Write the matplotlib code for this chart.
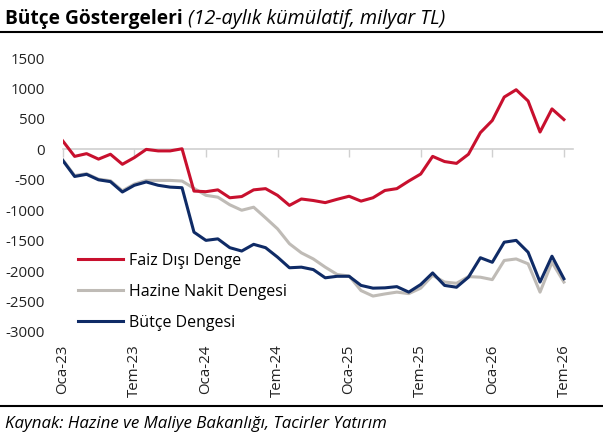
import matplotlib
matplotlib.use('Agg')
import matplotlib.pyplot as plt
from matplotlib.lines import Line2D
import numpy as np

plt.rcParams['font.family'] = ['Open Sans', 'DejaVu Sans']
plt.rcParams['axes.unicode_minus'] = False

# monthly data, Oca-23 .. Tem-26 (milyar TL, 12-aylik kumulatif)
months = np.arange(43)
tick_pos = [0, 6, 12, 18, 24, 30, 36, 42]
tick_labels = ['Oca-23', 'Tem-23', 'Oca-24', 'Tem-24', 'Oca-25', 'Tem-25', 'Oca-26', 'Tem-26']

faiz_disi = [140, -115, -70, -160, -80, -245, -135, 0, -25, -25, 10,
             -685, -695, -665, -795, -775, -665, -645, -755, -920, -815,
             -840, -875, -820, -770, -850, -795, -675, -645, -520, -405,
             -115, -200, -230, -80, 275, 475, 860, 980, 795, 285, 665, 490]
hazine_nakit = [-170, -430, -400, -490, -515, -680, -570, -510, -510, -510, -520,
                -640, -755, -785, -910, -1000, -950, -1125, -1305, -1550, -1700,
                -1800, -1935, -2055, -2080, -2320, -2410, -2375, -2345, -2370, -2280,
                -2070, -2180, -2200, -2090, -2100, -2140, -1825, -1800, -1880, -2345, -1855, -2180]
butce = [-180, -445, -410, -500, -530, -700, -590, -535, -590, -620, -630,
         -1360, -1495, -1470, -1615, -1670, -1560, -1615, -1770, -1945, -1935,
         -1975, -2110, -2085, -2085, -2235, -2280, -2275, -2255, -2345, -2220,
         -2030, -2235, -2265, -2100, -1780, -1855, -1525, -1495, -1690, -2180, -1755, -2125]

red = '#C8102E'
gray = '#BFBBB6'
navy = '#0F2B66'

fig = plt.figure(figsize=(6.03, 4.40), dpi=100)
ax = fig.add_axes([0.104, 0.2455, 0.846, 0.6225])

ax.plot(months, hazine_nakit, color=gray, lw=2.2, label='Hazine Nakit Dengesi', zorder=2)
ax.plot(months, butce, color=navy, lw=2.2, label='Bütçe Dengesi', zorder=3)
ax.plot(months, faiz_disi, color=red, lw=2.2, label='Faiz Dışı Denge', zorder=4)

ax.set_xlim(0, 42.75)
ax.set_ylim(-3000, 1500)
ax.set_yticks(range(-3000, 1501, 500))
ax.set_xticks(tick_pos)
ax.set_xticklabels(tick_labels, rotation=90)
ax.tick_params(axis='both', length=0, labelsize=10.8, colors='#222222')
ax.tick_params(axis='y', pad=13)
ax.tick_params(axis='x', pad=9)
for s in ax.spines.values():
    s.set_visible(False)

# zero axis with tick marks
sec = ax.secondary_xaxis(0, transform=ax.transData)
sec.set_xticks(tick_pos)
sec.set_xticklabels([])
sec.tick_params(length=6, width=1, color='#D0D0D0')
sec.spines['bottom'].set_color('#D0D0D0')
sec.spines['bottom'].set_linewidth(1.2)

h, l = ax.get_legend_handles_labels()
order = [2, 0, 1]
ax.legend([h[i] for i in order], [l[i] for i in order], loc='lower left',
          bbox_to_anchor=(0.018, -0.02), frameon=False, fontsize=11.5,
          handlelength=2.8, handletextpad=0.4, labelspacing=0.95,
          borderaxespad=0.0)

fig.text(0.008, 0.945, 'Bütçe Göstergeleri', fontsize=13.8, fontweight='bold',
         ha='left', va='baseline')
fig.text(0.312, 0.945, '(12-aylık kümülatif, milyar TL)', fontsize=14.2,
         style='italic', ha='left', va='baseline')
fig.add_artist(Line2D([0, 1], [0.928, 0.928], transform=fig.transFigure,
                      color='black', lw=1.5))
fig.add_artist(Line2D([0, 1], [0.077, 0.077], transform=fig.transFigure,
                      color='black', lw=1.5))
fig.text(0.008, 0.027, 'Kaynak: Hazine ve Maliye Bakanlığı, Tacirler Yatırım',
         fontsize=12.2, style='italic', ha='left', va='baseline')

fig.savefig('out.png', dpi=100)
